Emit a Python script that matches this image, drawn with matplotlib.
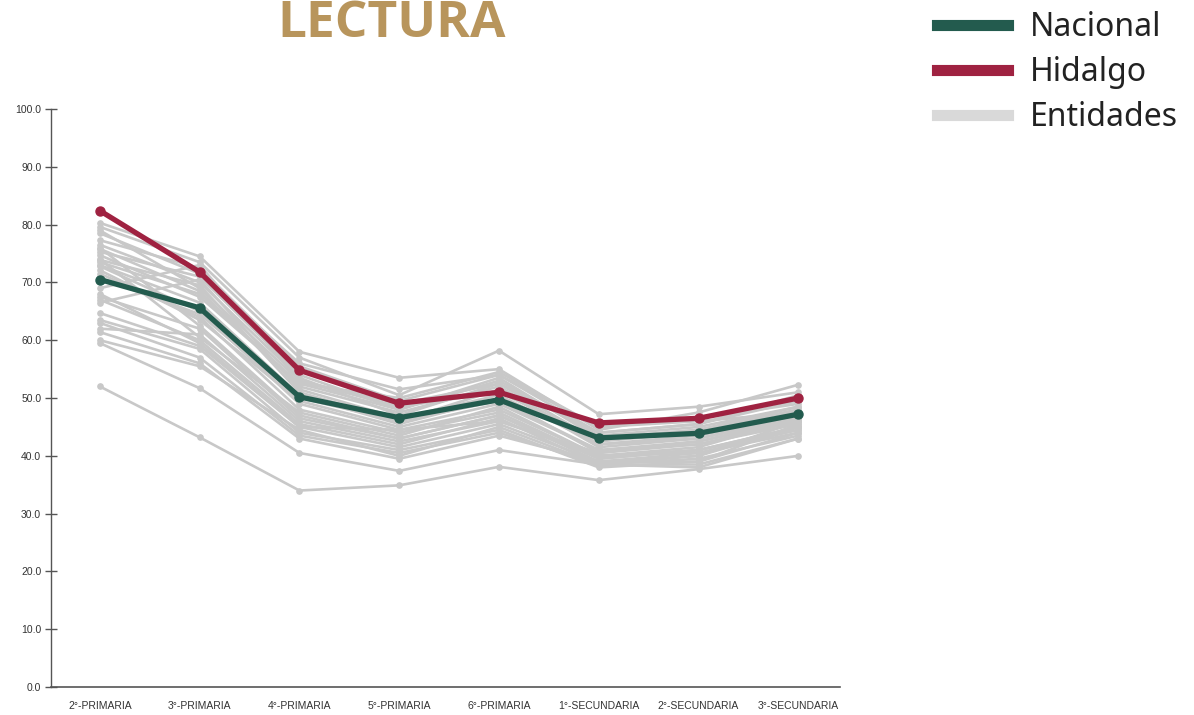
# imports
import matplotlib
matplotlib.use("Agg")
import matplotlib.pyplot as plt
from matplotlib.lines import Line2D

# data
grados = ["2°-PRIMARIA", "3°-PRIMARIA", "4°-PRIMARIA", "5°-PRIMARIA",
          "6°-PRIMARIA", "1°-SECUNDARIA", "2°-SECUNDARIA", "3°-SECUNDARIA"]

nacional = [70.5, 65.6, 50.2, 46.6, 49.7, 43.1, 43.9, 47.2]
hidalgo = [82.4, 71.8, 54.8, 49.1, 51.0, 45.7, 46.5, 50.0]

entidades = [
    [80.3, 74.5, 58.0, 53.5, 55.0, 44.5, 47.5, 52.3],
    [79.6, 73.5, 57.0, 50.5, 58.2, 47.2, 48.5, 51.0],
    [77.3, 72.5, 55.5, 49.5, 54.0, 44.0, 45.5, 49.5],
    [76.5, 70.0, 53.5, 47.0, 52.5, 42.5, 44.0, 48.0],
    [75.3, 71.0, 54.0, 48.0, 53.0, 43.5, 45.0, 48.5],
    [74.7, 67.5, 52.5, 50.0, 54.5, 45.0, 46.0, 47.5],
    [73.9, 69.5, 51.0, 46.0, 51.5, 41.5, 43.0, 46.5],
    [73.0, 66.5, 50.5, 45.5, 50.0, 40.5, 42.5, 46.0],
    [72.1, 63.5, 49.5, 45.0, 49.0, 41.0, 42.0, 45.5],
    [71.5, 64.0, 48.0, 44.0, 47.5, 39.5, 41.0, 45.0],
    [74.0, 60.5, 47.5, 43.5, 48.5, 40.0, 40.5, 44.5],
    [75.8, 68.5, 52.0, 47.5, 52.0, 42.0, 43.5, 47.0],
    [78.5, 71.5, 56.0, 51.5, 54.0, 45.0, 46.5, 49.0],
    [67.5, 62.0, 46.5, 43.0, 47.0, 39.0, 40.5, 44.0],
    [67.0, 60.0, 45.5, 42.0, 46.5, 38.5, 39.5, 43.5],
    [64.7, 59.0, 45.0, 41.5, 45.5, 39.0, 40.0, 45.0],
    [63.5, 58.5, 44.0, 41.0, 44.5, 38.0, 39.0, 44.0],
    [63.0, 57.0, 43.5, 40.5, 44.0, 38.5, 38.5, 43.0],
    [61.4, 56.0, 43.0, 39.5, 43.5, 39.0, 39.0, 45.5],
    [60.0, 55.5, 44.5, 40.0, 45.0, 38.5, 40.0, 46.0],
    [59.5, 51.7, 40.5, 37.4, 41.0, 38.5, 38.0, 43.0],
    [52.0, 43.2, 34.0, 34.9, 38.1, 35.8, 37.7, 40.0],
    [69.0, 73.0, 53.0, 48.5, 51.0, 43.0, 44.5, 48.0],
    [72.8, 65.0, 49.0, 44.5, 48.0, 40.0, 41.5, 46.5],
    [66.5, 70.5, 51.5, 46.5, 50.5, 42.0, 43.0, 47.0],
    [62.0, 61.0, 46.0, 42.5, 46.0, 40.0, 41.0, 45.0],
    [70.8, 64.5, 50.0, 46.0, 49.5, 41.0, 42.5, 46.5],
    [73.5, 68.0, 52.5, 48.0, 53.5, 43.0, 44.5, 48.5],
    [76.0, 62.5, 47.0, 43.0, 47.0, 39.5, 41.0, 44.5],
    [79.0, 69.0, 53.0, 49.0, 52.5, 44.0, 45.5, 50.5],
    [68.0, 59.5, 45.0, 44.5, 46.0, 40.5, 42.0, 46.0],
]

verde = "#235B4E"
guinda = "#9F2241"
gris = "#C8C8C8"
dorado = "#B8955C"

plt.rcParams['font.family'] = ['Liberation Sans', 'DejaVu Sans']

fig = plt.figure(figsize=(11.94, 7.15), dpi=100)
ax = fig.add_axes([0.0427, 0.039, 0.661, 0.8086])

x = list(range(len(grados)))

# entidades en gris
for serie in entidades:
    ax.plot(x, serie, color=gris, lw=1.9, marker="o", ms=3.8, zorder=2)

ax.plot(x, nacional, color=verde, lw=3.8, marker="o", ms=6.5, zorder=4)
ax.plot(x, hidalgo, color=guinda, lw=3.8, marker="o", ms=6.5, zorder=5)

ax.set_ylim(0, 100)
ax.set_xlim(-0.49, 7.42)
ax.set_yticks([0, 10, 20, 30, 40, 50, 60, 70, 80, 90, 100])
ax.set_yticklabels(["%.1f" % v for v in ax.get_yticks()])
ax.set_xticks(x)
ax.set_xticklabels(grados)
ax.tick_params(axis="y", direction="inout", length=8, width=1, color="#555555",
               labelsize=7.5, labelcolor="#333333", pad=3)
ax.tick_params(axis="x", length=0, labelsize=7.5, labelcolor="#333333", pad=10)

for side in ["top", "right"]:
    ax.spines[side].set_visible(False)
ax.spines["left"].set_color("#555555")
ax.spines["bottom"].set_color("#555555")
ax.spines["left"].set_linewidth(1)
ax.spines["bottom"].set_linewidth(1.2)

# titulo
fig.text(0.328, 0.966, "LECTURA", ha="center", va="center", color=dorado,
         fontsize=37, fontweight="bold", family=["Open Sans", "DejaVu Sans"])

# leyenda
handles = [Line2D([], [], color=verde, lw=8),
           Line2D([], [], color=guinda, lw=8),
           Line2D([], [], color="#D9D9D9", lw=8)]
leg = fig.legend(handles, ["Nacional", "Hidalgo", "Entidades"],
                 loc="upper left", bbox_to_anchor=(0.761, 1.025), frameon=False,
                 prop={"family": ["Noto Sans", "DejaVu Sans"], "size": 23},
                 handlelength=2.22, handletextpad=0.69, labelspacing=0.38)
for t in leg.get_texts():
    t.set_color("#222222")

fig.savefig("out.png", dpi=100)
